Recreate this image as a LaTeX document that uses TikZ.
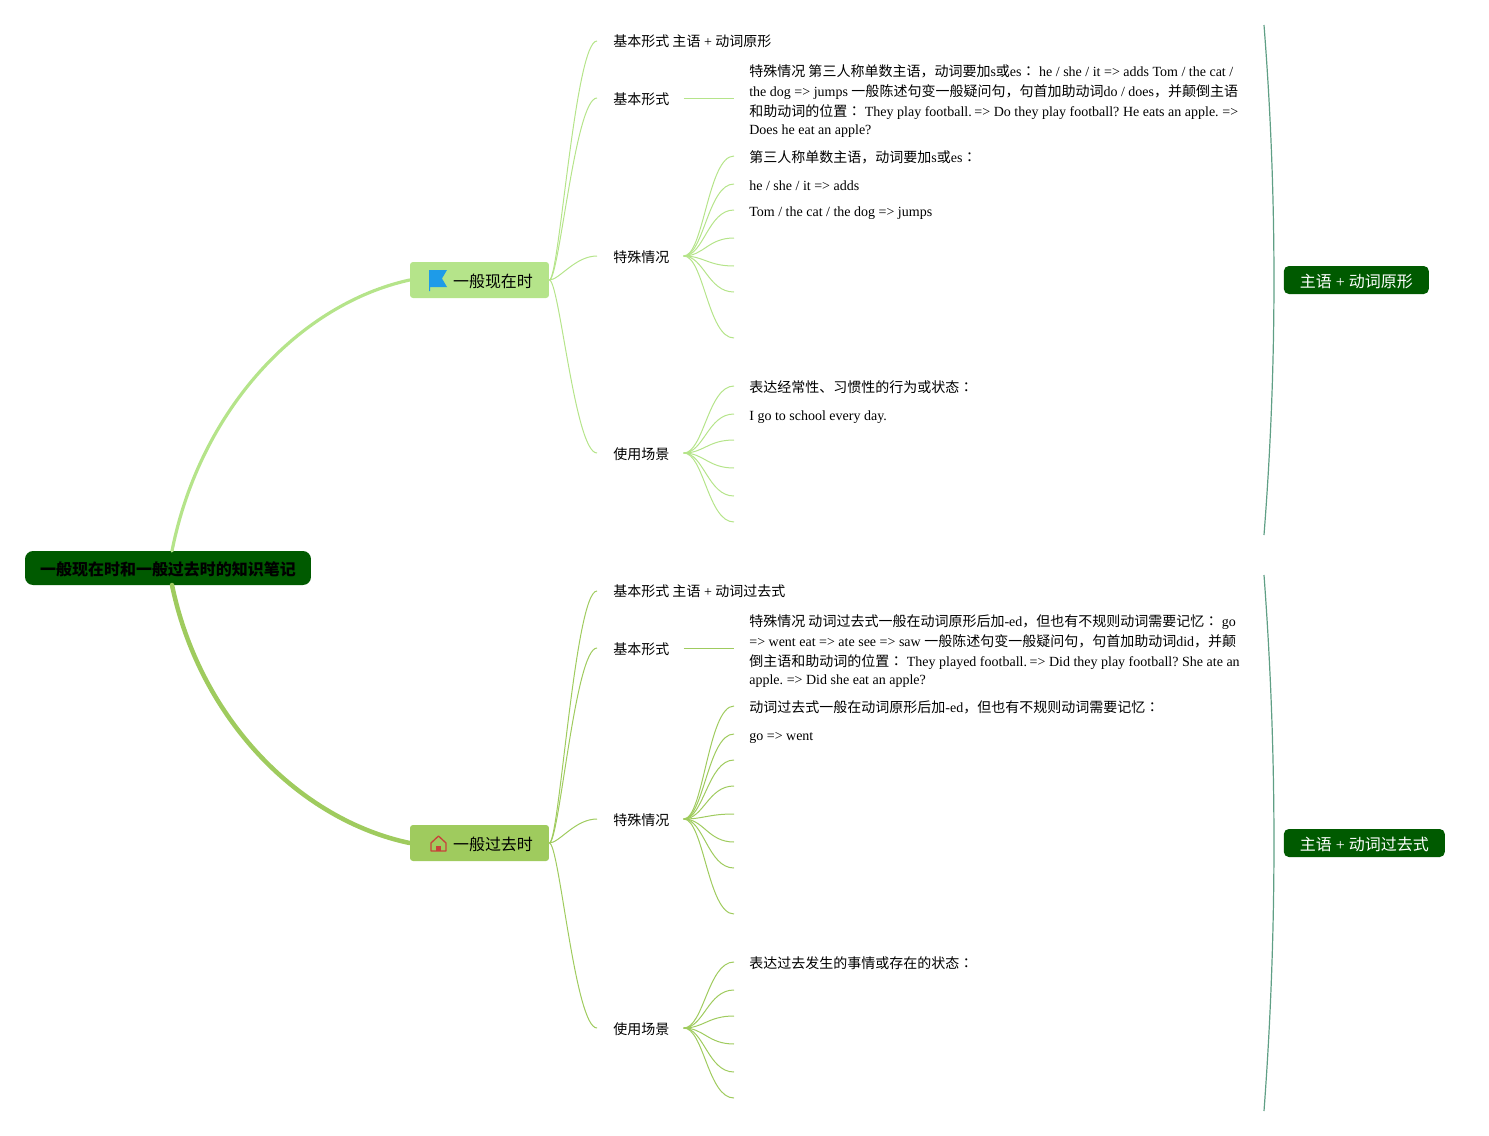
\documentclass[tikz,border=0pt]{standalone}
\usepackage{fontspec}
\setmainfont{Liberation Serif}
\newfontfamily\zhfont{Noto Sans CJK SC}
\newfontfamily\zhtcfont{Noto Sans CJK TC}
\newcommand{\zh}[1]{{\zhfont #1}}
\newcommand{\zhcolon}{{\zhtcfont ：}}
\definecolor{nowgreen}{HTML}{B5E48A}
\definecolor{pastgreen}{HTML}{9FCB5E}
\definecolor{darkgreen}{HTML}{005A00}
\definecolor{bracegreen}{HTML}{5F9F85}
\definecolor{flagblue}{HTML}{1E9BE8}
\definecolor{housered}{HTML}{C8423A}

\tikzset{
    rootbox/.style={fill=darkgreen, rounded corners=.16cm, minimum width=5.72cm, minimum height=.68cm, inner sep=0pt, text height=.32cm, text depth=.04cm, font=\fontsize{9.1}{11}\selectfont\bfseries},
    tensebox/.style={rounded corners=.06cm, minimum width=2.78cm, minimum height=.72cm, inner sep=0pt, text height=.32cm, text depth=.04cm, font=\fontsize{9.1}{11}\selectfont},
    sumbox/.style={fill=darkgreen, text=white, rounded corners=.1cm, anchor=west, minimum height=.56cm, inner xsep=.32cm, inner ysep=0pt, text height=.32cm, text depth=.04cm, font=\fontsize{9.1}{11}\selectfont},
    branch/.style={anchor=west, inner xsep=.32cm, inner ysep=0pt, text height=.28cm, text depth=.04cm, font=\fontsize{7.97}{11.38}\selectfont},
    leaf/.style={anchor=west, inner xsep=.3cm, inner ysep=0pt, text height=.3cm, text depth=.06cm, font=\fontsize{7.97}{11.38}\selectfont},
    note/.style={anchor=west, inner xsep=.3cm, inner ysep=0pt, align=left, font=\fontsize{7.97}{11.38}\selectfont},
    twig/.style={line width=.02cm},
    hubtwig/.style={twig, shorten <=-.04cm},
    trunk/.style={line cap=round},
    bracket/.style={bracegreen, line width=.024cm},
}

\begin{document}
\begin{tikzpicture}[x=.02cm, y=-.02cm]

    \useasboundingbox (0,0) rectangle (1489,1136);

    % main nodes
    \node[rootbox] (root) at (168,568) {\zh{一般现在时和一般过去时的知识笔记}};
    \coordinate (roottop) at (172,551);
    \coordinate (rootbot) at (172,585);
    \node[tensebox, fill=nowgreen] (now) at (479.5,280) {\hspace{.54cm}\zh{一般现在时}};
    \node[tensebox, fill=pastgreen] (past) at (479.5,843) {\hspace{.54cm}\zh{一般过去时}};

    \draw[trunk, nowgreen, line width=.064cm] (roottop) .. controls (200,409) and (300,304) .. (now.west);
    \draw[trunk, pastgreen, line width=.09cm] (rootbot) .. controls (200,720) and (300,820) .. (past.west);

    % flag and house
    \fill[flagblue] (429,270) -- (447,270) -- (442,278.5) -- (447,287) -- (430,287) -- (430,291) -- (429,291) -- cycle;
    \draw[housered, line width=.026cm, line join=round] (431,851) -- (431,843) -- (438.5,836) -- (446,843) -- (446,851) -- cycle;
    \fill[housered] (436,846) rectangle (441,851);

    % present tense
    \node[branch, text height=.26cm] (nowform) at (597,41) {\zh{基本形式 主语} + \zh{动词原形}};
    \node[branch] (nowbasic) at (597,98) {\zh{基本形式}};
    \node[branch] (nowspecial) at (597,256) {\zh{特殊情况}};
    \node[branch] (nowuse) at (597,453) {\zh{使用场景}};

    \foreach \n in {nowform, nowbasic, nowspecial, nowuse}
        \draw[twig, nowgreen] (now.east) .. controls +(10,0) and +(-22,0) .. (\n.west);

    \node[note] (nownote) at (734,101) {\zh{特殊情况 第三人称单数主语，动词要加}s\zh{或}es\zhcolon{} he / she / it => adds Tom / the cat /\\
        the dog => jumps \zh{一般陈述句变一般疑问句，句首加助动词}do / does\zh{，并颠倒主语}\\
        \zh{和助动词的位置}\zhcolon{} They play football.\kern-.04cm{} => Do they play football?\kern-.02cm{} He eats an apple.\kern-.02cm{} =>\\[-.04cm]
        Does he eat an apple?};
    \draw[hubtwig, nowgreen] (nowbasic.east) -- (nowbasic.east -| nownote.west);

    \foreach \i/\y/\txt in {1/156/{\zh{第三人称单数主语，动词要加}s\zh{或}es\zhcolon}, 2/184/{he / she / it => adds}, 3/210/{Tom / the cat / the dog => jumps}, 4/238/{}, 5/266/{}, 6/292/{}, 7/338/{}} {
        \node[leaf] (nowspec\i) at (734,\y) {\txt};
        \draw[hubtwig, nowgreen] (nowspecial.east) .. controls +(18,0) and +(-26,0) .. (nowspec\i.west);
    }

    \foreach \i/\y/\txt in {1/386/{\zh{表达经常性、习惯性的行为或状态}\zhcolon}, 2/414/{I go to school every day.}, 3/440/{}, 4/468/{}, 5/496/{}, 6/522/{}} {
        \node[leaf] (nowcase\i) at (734,\y) {\txt};
        \draw[hubtwig, nowgreen] (nowuse.east) .. controls +(18,0) and +(-26,0) .. (nowcase\i.west);
    }

    % past tense
    \node[branch, text height=.26cm] (pastform) at (597,591) {\zh{基本形式 主语} + \zh{动词过去式}};
    \node[branch] (pastbasic) at (597,648) {\zh{基本形式}};
    \node[branch] (pastspecial) at (597,819) {\zh{特殊情况}};
    \node[branch] (pastuse) at (597,1028) {\zh{使用场景}};

    \foreach \n in {pastform, pastbasic, pastspecial, pastuse}
        \draw[twig, pastgreen] (past.east) .. controls +(10,0) and +(-22,0) .. (\n.west);

    \node[note] (pastnote) at (734,651) {\zh{特殊情况 动词过去式一般在动词原形后加}-ed\zh{，但也有不规则动词需要记忆}\zhcolon{} go\\
        => went eat => ate see => saw \zh{一般陈述句变一般疑问句，句首加助动词}did\zh{，并颠}\\
        \zh{倒主语和助动词的位置}\zhcolon{} They played football.\kern-.04cm{} => Did they play football?\kern-.02cm{} She ate an\\[-.04cm]
        apple.\kern-.02cm{} => Did she eat an apple?};
    \draw[hubtwig, pastgreen] (pastbasic.east) -- (pastbasic.east -| pastnote.west);

    \foreach \i/\y/\txt in {1/706/{\zh{动词过去式一般在动词原形后加}-ed\zh{，但也有不规则动词需要记忆}\zhcolon}, 2/734/{go => went}, 3/760/{}, 4/786/{}, 5/814/{}, 6/842/{}, 7/868/{}, 8/914/{}} {
        \node[leaf] (pastspec\i) at (734,\y) {\txt};
        \draw[hubtwig, pastgreen] (pastspecial.east) .. controls +(18,0) and +(-26,0) .. (pastspec\i.west);
    }

    \foreach \i/\y/\txt in {1/962/{\zh{表达过去发生的事情或存在的状态}\zhcolon}, 2/990/{}, 3/1016/{}, 4/1044/{}, 5/1072/{}, 6/1098/{}} {
        \node[leaf] (pastcase\i) at (734,\y) {\txt};
        \draw[hubtwig, pastgreen] (pastuse.east) .. controls +(18,0) and +(-26,0) .. (pastcase\i.west);
    }

    % summaries
    \node[sumbox] (nowsum) at (1283.5,280) {\zh{主语} + \zh{动词原形}};
    \node[sumbox] (pastsum) at (1283.5,843) {\zh{主语} + \zh{动词过去式}};

    \coordinate (nowtop) at (1264,25);
    \coordinate (nowbot) at (1264,535);
    \coordinate (pasttop) at (1264,575);
    \coordinate (pastbot) at (1264,1111);
    \draw[bracket] (nowtop) .. controls (1277.3,195) and (1277.3,365) .. (nowbot);
    \draw[bracket] (pasttop) .. controls (1277.3,754) and (1277.3,932) .. (pastbot);

\end{tikzpicture}
\end{document}
